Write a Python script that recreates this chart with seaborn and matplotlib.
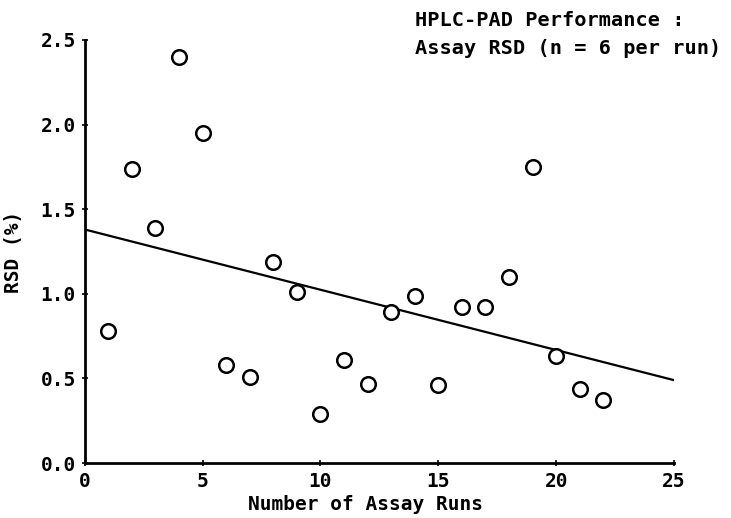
import matplotlib
matplotlib.use("Agg")
import matplotlib.pyplot as plt
import seaborn as sns
import pandas as pd

runs = list(range(1, 23))
rsd = [0.78, 1.74, 1.39, 2.40, 1.95, 0.58, 0.51, 1.19, 1.01, 0.29, 0.61,
       0.47, 0.89, 0.99, 0.46, 0.92, 0.92, 1.10, 1.75, 0.63, 0.44, 0.37]
fit_x = [0, 25]
fit_y = [1.38, 0.49]
x_ticks = [0, 5, 10, 15, 20, 25]
y_ticks = [0.0, 0.5, 1.0, 1.5, 2.0, 2.5]
title_lines = ["HPLC-PAD Performance :", "Assay RSD (n = 6 per run)"]

sns.set_theme(style="white")
plt.rcParams['font.family'] = ['DejaVu Sans Mono']
plt.rcParams['text.color'] = 'black'
plt.rcParams['axes.labelcolor'] = 'black'

fig = plt.figure(figsize=(7.31, 5.18), dpi=100)
ax = fig.add_axes([0.116, 0.106, 0.806, 0.817])

df = pd.DataFrame({"run": runs, "rsd": rsd})
line_df = pd.DataFrame({"x": fit_x, "y": fit_y})

sns.lineplot(data=line_df, x="x", y="y", ax=ax, color="black", linewidth=1.6)
sns.scatterplot(data=df, x="run", y="rsd", ax=ax, s=110, facecolor="white",
                edgecolor="black", linewidth=1.8, zorder=3)

ax.set_xlim(0, 25)
ax.set_ylim(0, 2.5)
ax.set_xticks(x_ticks)
ax.set_yticks(y_ticks)
ax.set_xticklabels([str(t) for t in x_ticks], fontsize=14, fontweight="bold")
ax.set_yticklabels([f"{t:.1f}" for t in y_ticks], fontsize=14, fontweight="bold")
ax.tick_params(axis="both", direction="inout", length=5, width=1.2, colors="black",
               left=True, bottom=True, pad=4)
ax.set_xlabel("Number of Assay Runs", fontsize=14, fontweight="bold")
ax.set_ylabel("RSD (%)", fontsize=14, fontweight="bold")
ax.xaxis.set_label_coords(0.477, -0.075)
ax.yaxis.set_label_coords(-0.105, 0.5)

for side in ["top", "right"]:
    ax.spines[side].set_visible(False)
for side in ["left", "bottom"]:
    ax.spines[side].set_linewidth(2.0)
    ax.spines[side].set_color("black")

fig.text(415 / 731, 1 - 20 / 518, title_lines[0], fontsize=14.6, fontweight="bold",
         ha="left", va="center", color="black")
fig.text(415 / 731, 1 - 49 / 518, title_lines[1], fontsize=14.6, fontweight="bold",
         ha="left", va="center", color="black")

fig.savefig("out.png", dpi=100)
